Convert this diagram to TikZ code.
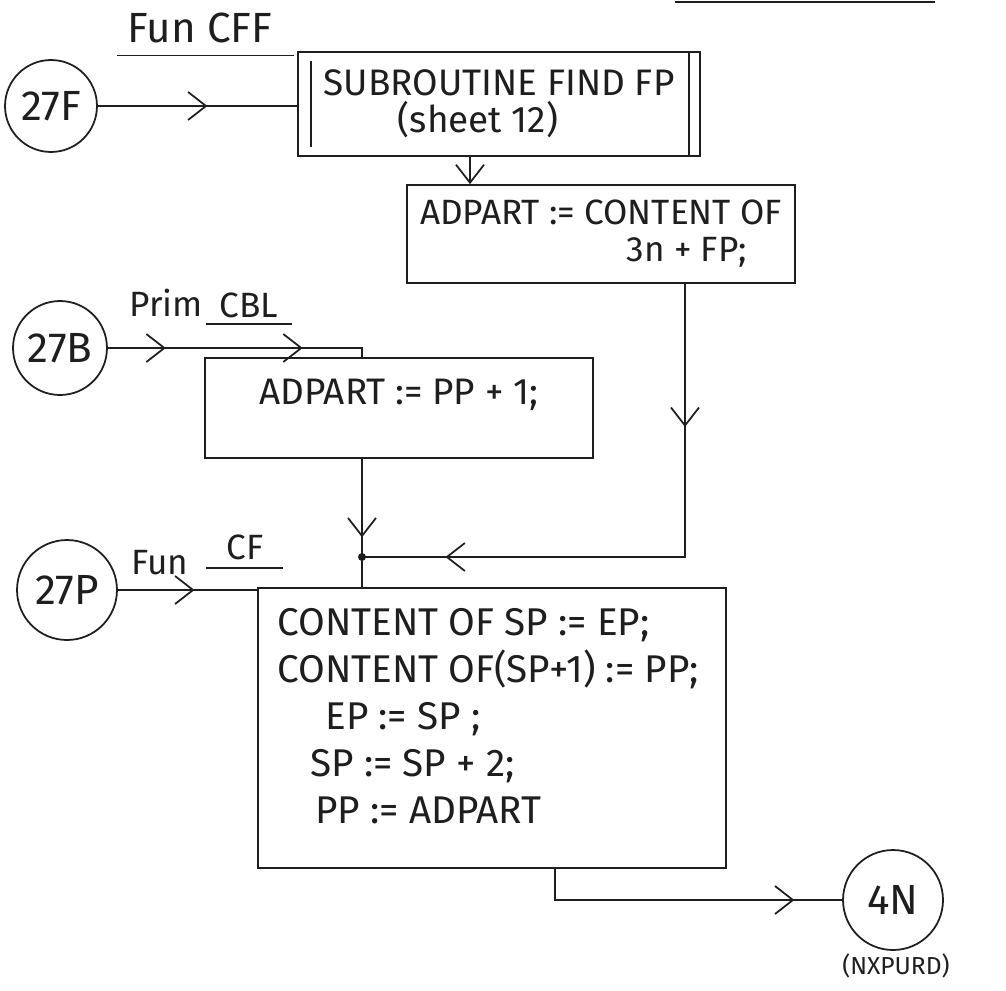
\documentclass[tikz,border=0pt]{standalone}
\usepackage{fontspec}
\setmainfont{Fira Sans}
\usetikzlibrary{arrows.meta,decorations.markings}
\definecolor{ink}{HTML}{1E1E1E}

\begin{document}
\begin{tikzpicture}[x=0.02cm,y=-0.02cm]
  \tikzset{
    barb/.tip = {Straight Barb[length=0.36cm,width=0.56cm]},
    flow/.style = {draw=ink, line width=1pt},
    arrowat/.style = {postaction={decorate,decoration={markings,mark=at position #1 with {\arrow{barb}}}}},
    box/.style = {draw=ink, line width=1pt, rectangle, inner sep=0pt, text=ink, font=\fontsize{21}{21}\selectfont},
    conn/.style = {draw=ink, line width=1pt, circle, inner sep=0pt, text=ink, font=\fontsize{24}{28}\selectfont},
    tag/.style = {inner sep=0pt, text=ink, font=\fontsize{20}{24}\selectfont}
  }
  \useasboundingbox (0,0) rectangle (1006,990);

  % Connectors
  \node[conn, minimum size=1.84cm] (c27F) at (51,106) {27F};
  \node[conn, minimum size=1.88cm] (c27B) at (60,348) {27B};
  \node[conn, minimum size=2cm] (c27P) at (67,590) {27P};
  \node[conn, minimum size=2cm] (c4N) at (893,900) {4N};
  \node[tag, font=\fontsize{14}{16}\selectfont] (nxpurd) at (896,966) {(NXPURD)};

  % Labels
  \node[tag, font=\fontsize{24}{28}\selectfont] (funCFF) at (200,28) {Fun CFF};
  \node[tag] (prim) at (166,303) {Prim};
  \node[tag] (cbl) at (249,305) {CBL};
  \node[tag] (fun) at (160,563) {Fun};
  \node[tag] (cf) at (245,547) {CF};
  \draw[flow] (funCFF.south west) ++(-10,12) -- ++(177,0);
  \draw[flow] (cbl.south west) ++(-13,6) -- ++(86,0);
  \draw[flow] (cf.south west) ++(-20,8) -- ++(77,0);
  \coordinate (topA) at (675,2);
  \coordinate (topB) at (935,2);
  \draw[flow] (topA) -- (topB);

  % Boxes
  \node[box, minimum width=8.04cm, minimum height=2.08cm, align=center] (sub) at (499,104)
    {SUBROUTINE FIND FP\\(sheet 12)\hspace*{0.84cm}};
  \draw[flow] ([xshift=0.28cm,yshift=-0.2cm]sub.north west) -- ([xshift=0.28cm,yshift=0.2cm]sub.south west);
  \draw[flow] ([xshift=-0.24cm]sub.north east) -- ([xshift=-0.24cm]sub.south east);
  \node[box, font=\fontsize{20}{21}\selectfont, minimum width=7.76cm, minimum height=1.96cm, align=right] (adp) at (601,234)
    {ADPART := CONTENT OF\\3n + FP;\hspace*{0.7cm}};
  \node[box, minimum width=7.76cm, minimum height=2cm, text height=0.82cm, text depth=0.98cm] (pp) at (399,408)
    {ADPART := PP + 1;};
  \node[box, minimum width=9.36cm, minimum height=5.6cm] (big) at (492,728) {};
  \node[tag, font=\fontsize{22}{26.7}\selectfont, align=left, anchor=north west] (bigtext) at (277,608)
    {CONTENT OF SP := EP;\\CONTENT OF(SP+1) := PP;\\\hspace*{0.96cm}EP := SP ;\\\hspace*{0.66cm}SP := SP + 2;\\\hspace*{0.76cm}PP := ADPART};

  % Flow lines
  \coordinate (join) at (362,557);
  \coordinate (adpout) at ([xshift=1.68cm]adp.south);
  \coordinate (bigout) at ([xshift=1.26cm]big.south);
  \draw[flow, arrowat=0.55] (c27F) -- (c27F -| sub.west);
  \draw[flow, -barb] ([xshift=-0.58cm]sub.south) -- ([xshift=-0.58cm]sub.south |- adp.north);
  \draw[flow, arrowat=0.24, arrowat=0.86] (adpout) |- (join);
  \draw[flow, arrowat=0.22, arrowat=0.74] (c27B) -- (c27B -| join) -- (pp.north -| join);
  \draw[flow, arrowat=0.8] (pp.south -| join) -- (join);
  \draw[flow] (join) -- (big.north -| join);
  \fill[ink] (join) circle (0.08cm);
  \draw[flow, arrowat=0.55] (c27P) -- (c27P -| big.west);
  \draw[flow, arrowat=0.85] (bigout) |- (c4N);
\end{tikzpicture}
\end{document}
